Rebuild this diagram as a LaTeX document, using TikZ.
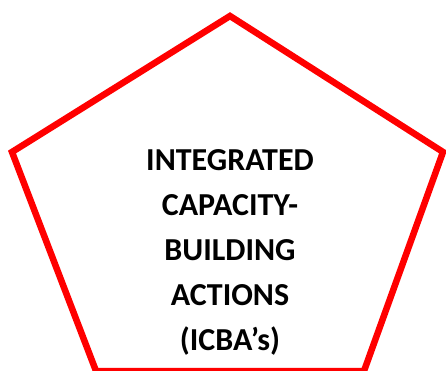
\documentclass[tikz,border=0pt]{standalone}
\usepackage{fontspec}
\setmainfont{Carlito}
\begin{document}
\begin{tikzpicture}[x=1pt,y=-1pt,
  edge/.style={draw=red,line width=6.5pt,line join=miter},
  title/.style={font=\bfseries\fontsize{32}{45}\selectfont,align=center,inner sep=0pt}]
  \useasboundingbox (0,0) rectangle (446,371);
  \coordinate (top) at (230,16);
  \coordinate (right) at (443,152);
  \coordinate (br) at (364,371);
  \coordinate (bl) at (96,371);
  \coordinate (left) at (12,152);
  \draw[edge] (top) -- (right) -- (br) -- (bl) -- (left) -- cycle;
  \node[title] (label) at (230,252) {INTEGRATED\\CAPACITY-\\BUILDING\\ACTIONS\\(ICBA’s)};
\end{tikzpicture}
\end{document}
